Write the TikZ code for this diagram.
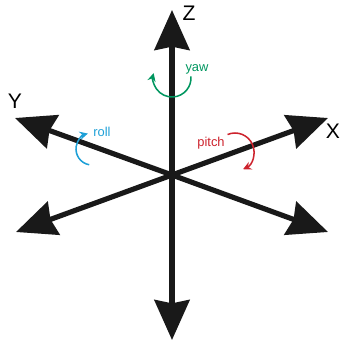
\documentclass[tikz,border=0pt]{standalone}
\usepackage{fontspec}
\setmainfont{Liberation Sans}
\usetikzlibrary{arrows.meta}
\definecolor{yawgreen}{RGB}{0,150,95}
\definecolor{rollblue}{RGB}{30,160,215}
\definecolor{pitchred}{RGB}{205,35,45}
\tikzset{
  axis/.style={line width=4.4pt, black!90,
               -{Stealth[length=1.2cm, width=1.05cm, inset=0.1cm]}},
  axislabel/.style={font=\fontsize{18}{20}\selectfont, inner sep=0pt},
  rotarrow/.style={line width=1.3pt, -{Stealth[length=7pt, width=7pt]}},
  rotlabel/.style={font=\fontsize{11}{12}\selectfont, inner sep=0pt}
}
\begin{document}
\begin{tikzpicture}[x=0.03cm, y=-0.03cm]
  \useasboundingbox (0,0) rectangle (341,341);

  % centre and axis ends
  \coordinate (o)  at (172,175);
  \coordinate (zp) at (172,10);
  \coordinate (zm) at (172,340);
  \coordinate (yp) at (15,118);
  \coordinate (xp) at (328,118);
  \coordinate (ym) at (16,232);
  \coordinate (xm) at (328,232);

  \draw[axis] (o) -- (zp);
  \draw[axis] (o) -- (zm);
  \draw[axis] (o) -- (yp);
  \draw[axis] (o) -- (xp);
  \draw[axis] (o) -- (ym);
  \draw[axis] (o) -- (xm);

  \node[axislabel] (zlab) at (189,13)  {Z};
  \node[axislabel] (ylab) at (15,101)  {Y};
  \node[axislabel] (xlab) at (333,131) {X};

  % rotations
  \draw[rotarrow, yawgreen]   (172,78)  ++(-5:19)   arc[start angle=-5,   end angle=195, radius=19];
  \draw[rotarrow, rollblue]   (92,149)  ++(100:16)  arc[start angle=100,  end angle=255, radius=16];
  \draw[rotarrow, pitchred]   (235,152) ++(-113:19) arc[start angle=-113, end angle=65,  radius=19];

  \node[rotlabel, text=yawgreen] (yaw)   at (197,69)  {yaw};
  \node[rotlabel, text=rollblue] (roll)  at (102,132) {roll};
  \node[rotlabel, text=pitchred] (pitch) at (211,143) {pitch};
\end{tikzpicture}
\end{document}
